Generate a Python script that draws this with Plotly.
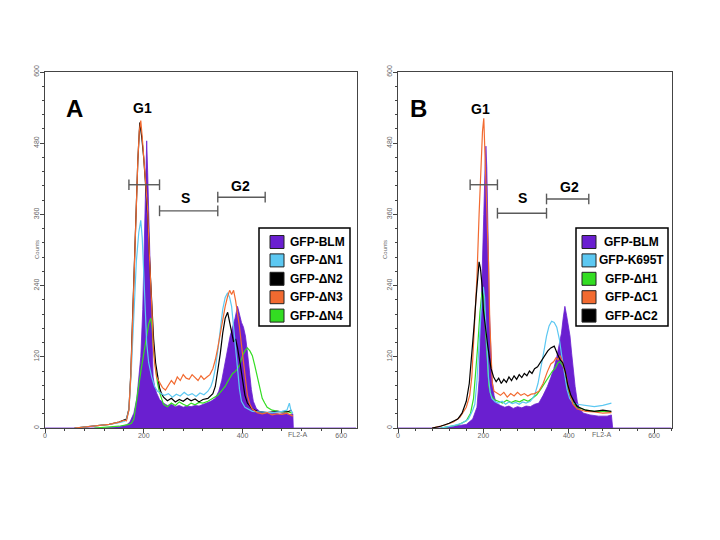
import plotly.graph_objects as go

# ---------------- Panel A data (FL2-A channel vs counts) ----------------
a_blm_x = [0, 120, 150, 165, 172, 180, 186, 190, 194, 198, 202, 204, 206, 208, 210, 212, 214, 217, 219, 222, 226, 232,
           240, 248, 256, 264, 272, 280, 288, 296, 304, 312, 320, 328, 336, 345, 352, 358, 364, 370, 375, 380, 385, 390,
           394, 398, 402, 406, 410, 414, 418, 422, 428, 435, 445, 455, 465, 475, 485, 495, 502, 503, 630]
a_blm_y = [0, 0, 2, 5, 10, 25, 50, 80, 120, 200, 370, 440, 484, 430, 367, 290, 199, 120, 86, 70, 59, 48,
           42, 38, 40, 36, 38, 35, 37, 36, 38, 37, 40, 42, 45, 50, 62, 80, 105, 135, 155, 170, 185, 205,
           190, 178, 170, 155, 128, 95, 65, 45, 33, 28, 26, 24, 25, 23, 25, 22, 24, 0, 0]

a_n1_x = [60, 100, 130, 150, 160, 165, 170, 175, 180, 185, 190, 194, 197, 200, 203, 206, 210, 216, 222, 228, 235,
          242, 250, 258, 266, 274, 282, 290, 298, 306, 314, 322, 330, 336, 340, 345, 350, 355, 360, 365, 370, 374,
          378, 382, 386, 390, 394, 398, 405, 420, 440, 460, 480, 490, 495, 498, 502]
a_n1_y = [0, 3, 6, 9, 11, 14, 30, 100, 200, 280, 330, 350, 320, 255, 200, 143, 110, 86, 70, 62, 58,
          55, 58, 52, 57, 54, 60, 55, 58, 53, 59, 56, 62, 70, 80, 100, 130, 165, 200, 220, 228, 220,
          205, 170, 130, 95, 65, 45, 35, 28, 27, 26, 28, 30, 42, 30, 25]

a_n2_x = [60, 100, 130, 150, 160, 165, 170, 174, 177, 180, 184, 188, 192, 196, 200, 204, 208, 212, 216, 220, 224,
          228, 232, 236, 240, 248, 256, 264, 272, 280, 288, 296, 304, 312, 320, 330, 340, 345, 350, 355, 360, 365,
          370, 374, 378, 382, 386, 390, 395, 400, 405, 410, 420, 430, 450, 470, 490, 500]
a_n2_y = [0, 3, 6, 10, 13, 15, 32, 95, 175, 260, 365, 450, 515, 490, 455, 410, 360, 280, 200, 150, 110,
          85, 68, 58, 52, 46, 50, 44, 48, 45, 50, 46, 49, 44, 48, 50, 58, 70, 95, 125, 160, 185,
          195, 180, 160, 145, 150, 135, 110, 80, 55, 42, 32, 28, 26, 28, 27, 30]

a_n3_x = [60, 100, 130, 150, 160, 165, 170, 174, 177, 180, 184, 188, 191, 194, 197, 200, 204, 208, 211, 214, 217,
          219, 222, 226, 232, 238, 244, 250, 256, 262, 268, 274, 280, 286, 292, 298, 304, 310, 316, 322, 328, 334,
          340, 345, 350, 355, 360, 365, 370, 374, 378, 382, 386, 390, 394, 398, 402, 406, 410, 415, 420, 430, 440,
          450, 460, 470, 480, 490, 498, 502]
a_n3_y = [0, 3, 6, 10, 13, 12, 30, 90, 170, 255, 360, 450, 500, 518, 490, 455, 410, 367, 300, 255, 190,
          143, 110, 86, 78, 68, 64, 72, 80, 74, 86, 80, 90, 84, 82, 90, 85, 80, 88, 82, 86, 90,
          100, 115, 135, 160, 185, 205, 222, 232, 225, 232, 215, 195, 170, 140, 110, 80, 55, 40, 32, 26, 24,
          26, 22, 24, 23, 25, 22, 20]

a_n4_x = [100, 150, 170, 175, 180, 185, 190, 195, 200, 205, 210, 214, 217, 220, 224, 228, 232, 236, 240, 248, 256,
          264, 272, 280, 288, 296, 304, 312, 320, 330, 340, 345, 350, 355, 360, 365, 370, 375, 380, 385, 390, 395,
          400, 405, 410, 415, 420, 425, 430, 435, 440, 445, 450, 460, 470, 480, 490, 500]
a_n4_y = [0, 3, 6, 8, 15, 45, 75, 100, 125, 150, 175, 185, 170, 130, 100, 75, 60, 50, 40, 36, 42,
          38, 44, 40, 37, 42, 39, 43, 42, 45, 50, 52, 55, 60, 65, 70, 78, 85, 92, 95, 100, 108,
          122, 130, 135, 130, 122, 105, 85, 65, 50, 42, 35, 30, 28, 27, 28, 25]

# ---------------- Panel B data ----------------
b_blm_x = [0, 100, 130, 160, 175, 185, 190, 195, 198, 201, 204, 206, 208, 210, 212, 214, 217, 220, 225, 230,
           240, 250, 260, 270, 280, 290, 300, 310, 320, 330, 340, 350, 358, 365, 372, 378, 383, 387, 391, 395,
           399, 403, 407, 411, 415, 420, 425, 435, 450, 470, 490, 500, 503, 640]
b_blm_y = [0, 0, 3, 6, 15, 35, 80, 200, 250, 360, 440, 475, 440, 380, 290, 199, 130, 86, 55, 42,
           38, 35, 37, 33, 36, 34, 37, 36, 40, 42, 55, 70, 85, 100, 120, 140, 160, 185, 205, 190,
           175, 155, 125, 95, 70, 45, 32, 25, 22, 20, 20, 22, 0, 0]

b_k695t_x = [100, 130, 150, 165, 175, 180, 185, 190, 195, 200, 203, 206, 209, 212, 216, 220, 228, 236, 244, 252,
             260, 268, 276, 284, 292, 300, 310, 320, 328, 335, 342, 348, 354, 360, 366, 372, 378, 384, 390, 396,
             402, 410, 420, 440, 460, 480, 490, 500]
b_k695t_y = [0, 4, 8, 15, 30, 40, 80, 140, 200, 238, 220, 170, 120, 85, 60, 50, 44, 42, 45, 40,
             44, 41, 43, 40, 44, 42, 45, 55, 75, 100, 130, 155, 172, 180, 178, 170, 150, 120, 90, 65,
             50, 42, 40, 38, 36, 38, 40, 42]

b_h1_x = [100, 140, 160, 170, 177, 182, 187, 192, 197, 200, 203, 206, 209, 213, 218, 225, 235, 245, 255, 265,
          275, 285, 295, 305, 315, 325, 335, 345, 355, 362, 368, 375, 380, 385, 390, 395, 400, 408, 420, 440,
          460, 480, 500]
b_h1_y = [0, 5, 12, 25, 50, 90, 140, 195, 230, 225, 190, 140, 100, 70, 55, 48, 45, 42, 47, 43,
          46, 44, 48, 45, 50, 56, 66, 78, 90, 96, 100, 110, 112, 105, 100, 80, 62, 45, 35, 30,
          28, 28, 27]

b_c1_x = [80, 110, 130, 145, 160, 168, 173, 179, 185, 190, 195, 198, 201, 204, 207, 209, 212, 215, 218, 221,
          225, 232, 240, 248, 256, 264, 272, 280, 288, 296, 304, 312, 320, 330, 340, 350, 358, 365, 370, 375,
          380, 385, 390, 395, 400, 405, 410, 420, 440, 460, 480, 500]
b_c1_y = [0, 5, 10, 18, 35, 55, 86, 160, 255, 360, 450, 500, 522, 450, 400, 367, 280, 180, 110, 75,
          62, 58, 55, 60, 52, 58, 54, 60, 55, 58, 54, 57, 58, 62, 75, 95, 108, 112, 118, 115,
          122, 112, 100, 85, 65, 50, 40, 32, 28, 27, 25, 26]

b_c2_x = [80, 100, 120, 140, 150, 160, 167, 173, 178, 183, 187, 190, 193, 197, 200, 205, 210, 218, 224, 230,
          236, 242, 248, 254, 260, 266, 272, 278, 284, 290, 296, 302, 308, 314, 320, 327, 335, 343, 351, 358,
          366, 374, 380, 386, 392, 398, 405, 413, 420, 440, 460, 480, 500]
b_c2_y = [0, 3, 8, 15, 25, 45, 75, 120, 170, 220, 265, 280, 270, 240, 199, 165, 140, 100, 86, 78,
          84, 75, 82, 77, 86, 80, 88, 82, 90, 85, 92, 88, 96, 92, 100, 103, 112, 119, 130, 135,
          138, 124, 115, 110, 95, 72, 55, 44, 36, 30, 28, 30, 28]

# Gates (FL2-A ranges) and their marker heights in counts
gate_names = ["G1", "S", "G2"]
a_gate_lo = [170, 232, 350]
a_gate_hi = [232, 350, 446]
a_gate_h = [410, 366, 389]
a_label_x = [198, 285, 396]
a_label_y = [539, 388, 408]
b_gate_lo = [169, 233, 348]
b_gate_hi = [233, 348, 447]
b_gate_h = [410, 362, 386]
b_label_x = [193, 292, 402]
b_label_y = [538, 388, 406]

# Legend labels
legA_names = ["GFP-BLM", "GFP-\u0394N1", "GFP-\u0394N2", "GFP-\u0394N3", "GFP-\u0394N4"]
legB_names = ["GFP-BLM", "GFP-K695T", "GFP-\u0394H1", "GFP-\u0394C1", "GFP-\u0394C2"]

PURPLE = "#6a1fd0"
CYAN = "#5cc8f2"
BLACK = "#000000"
ORANGE = "#f26a30"
GREEN = "#33dd22"
legA_colors = [PURPLE, CYAN, BLACK, ORANGE, GREEN]
legB_colors = [PURPLE, CYAN, GREEN, ORANGE, BLACK]

fig = go.Figure()

def add_fill(x, y, xa, ya, name):
    fig.add_trace(go.Scatter(x=x, y=y, mode="lines", fill="tozeroy", fillcolor=PURPLE, name=name,
                             line=dict(color=PURPLE, width=0.8), xaxis=xa, yaxis=ya, showlegend=False))

def add_line(x, y, color, xa, ya, name):
    fig.add_trace(go.Scatter(x=x, y=y, mode="lines", line=dict(color=color, width=1.2), name=name,
                             xaxis=xa, yaxis=ya, showlegend=False))

# Panel A
add_fill(a_blm_x, a_blm_y, "x", "y", legA_names[0])
add_line(a_n4_x, a_n4_y, GREEN, "x", "y", legA_names[4])
add_line(a_n2_x, a_n2_y, BLACK, "x", "y", legA_names[2])
add_line(a_n1_x, a_n1_y, CYAN, "x", "y", legA_names[1])
add_line(a_n3_x, a_n3_y, ORANGE, "x", "y", legA_names[3])
# Panel B
add_fill(b_blm_x, b_blm_y, "x2", "y2", legB_names[0])
add_line(b_h1_x, b_h1_y, GREEN, "x2", "y2", legB_names[2])
add_line(b_k695t_x, b_k695t_y, CYAN, "x2", "y2", legB_names[1])
add_line(b_c1_x, b_c1_y, ORANGE, "x2", "y2", legB_names[3])
add_line(b_c2_x, b_c2_y, BLACK, "x2", "y2", legB_names[4])

# Gate bars
def gates(lo, hi, h, lx, ly, xr, yr):
    for i in range(3):
        fig.add_shape(type="line", x0=lo[i], x1=hi[i], y0=h[i], y1=h[i], xref=xr, yref=yr,
                      line=dict(color="#5a5a5a", width=1.4))
        for xv in (lo[i], hi[i]):
            fig.add_shape(type="line", x0=xv, x1=xv, y0=h[i] - 9, y1=h[i] + 9, xref=xr, yref=yr,
                          line=dict(color="#5a5a5a", width=1.4))
        fig.add_annotation(x=lx[i], y=ly[i], xref=xr, yref=yr, text="<b>%s</b>" % gate_names[i],
                           showarrow=False, font=dict(size=14, color="#000", family="Liberation Sans, Arial"))

gates(a_gate_lo, a_gate_hi, a_gate_h, a_label_x, a_label_y, "x", "y")
gates(b_gate_lo, b_gate_hi, b_gate_h, b_label_x, b_label_y, "x2", "y2")

# Legend boxes (drawn in pixel-based paper coordinates)
W, H = 720.0, 540.0
def legend_box(x0, x1, y0, y1, sq_x0, text_x, text_anchor, names, colors):
    fig.add_shape(type="rect", xref="paper", yref="paper", x0=x0/W, x1=x1/W, y0=1-y1/H, y1=1-y0/H,
                  fillcolor="white", line=dict(color="#000", width=1.5))
    row0, step = 242, 18.4
    for i, (n, c) in enumerate(zip(names, colors)):
        cy = row0 + i*step
        fig.add_shape(type="rect", xref="paper", yref="paper", x0=sq_x0/W, x1=(sq_x0+14)/W,
                      y0=1-(cy+6.5)/H, y1=1-(cy-6.5)/H, fillcolor=c, line=dict(color="#222", width=1))
        fig.add_annotation(x=text_x/W, y=1-cy/H, xref="paper", yref="paper", text="<b>%s</b>" % n,
                           xanchor=text_anchor, yanchor="middle", showarrow=False,
                           font=dict(size=12, color="#000", family="Liberation Sans, Arial"))

legend_box(259, 350, 228, 326, 270, 288, "left", legA_names, legA_colors)
legend_box(576, 668, 228, 326, 582, 631, "center", legB_names, legB_colors)

axis_common = dict(showline=True, linecolor="#444", linewidth=1, mirror=True, ticks="outside", ticklen=4,
                   tickcolor="#444", showgrid=False, zeroline=False, automargin=False,
                   tickfont=dict(size=7, color="#666", family="Liberation Sans, Arial"))

fig.update_layout(
    width=720, height=540, margin=dict(l=0, r=0, t=0, b=0, autoexpand=False),
    paper_bgcolor="white", plot_bgcolor="white", showlegend=False,
    xaxis=dict(domain=[45/720, 357/720], range=[0, 632], tickvals=[0, 200, 400, 600], ticklabelstandoff=-3,
               minor=dict(dtick=40, ticks="outside", ticklen=2, tickcolor="#444"), anchor="y", **axis_common),
    yaxis=dict(domain=[112/540, 468/540], range=[0, 600], tickvals=[0, 120, 240, 360, 480, 600], tickangle=-90,
               ticklabelstandoff=-2,
               minor=dict(dtick=24, ticks="outside", ticklen=2, tickcolor="#444"), anchor="x", **axis_common),
    xaxis2=dict(domain=[398/720, 672/720], range=[0, 642], tickvals=[0, 200, 400, 600], ticklabelstandoff=-3,
                minor=dict(dtick=40, ticks="outside", ticklen=2, tickcolor="#444"), anchor="y2", **axis_common),
    yaxis2=dict(domain=[112/540, 468/540], range=[0, 600], tickvals=[0, 120, 240, 360, 480, 600], tickangle=-90,
                ticklabelstandoff=-2,
                minor=dict(dtick=24, ticks="outside", ticklen=2, tickcolor="#444"), anchor="x2", **axis_common),
)

# Panel letters and axis captions
for txt, px in (("A", 64), ("B", 418)):
    fig.add_annotation(x=px/W, y=1-93/H, xref="paper", yref="paper", text="<b>%s</b>" % txt, showarrow=False,
                       font=dict(size=24, family="Liberation Sans, Arial", color="#000"))
for px in (32, 385):
    fig.add_annotation(x=px/W, y=1-250/H, xref="paper", yref="paper", text="Counts", textangle=-90,
                       showarrow=False, font=dict(size=6, family="Liberation Sans, Arial", color="#666"))
for px in (297, 613):
    fig.add_annotation(x=px/W, y=1-440/H, xref="paper", yref="paper", text="FL2-A",
                       showarrow=False, font=dict(size=7, family="Liberation Sans, Arial", color="#666"))

fig.write_html("out.html", config={"displayModeBar": False},
               post_script="document.body.style.margin='0';")
